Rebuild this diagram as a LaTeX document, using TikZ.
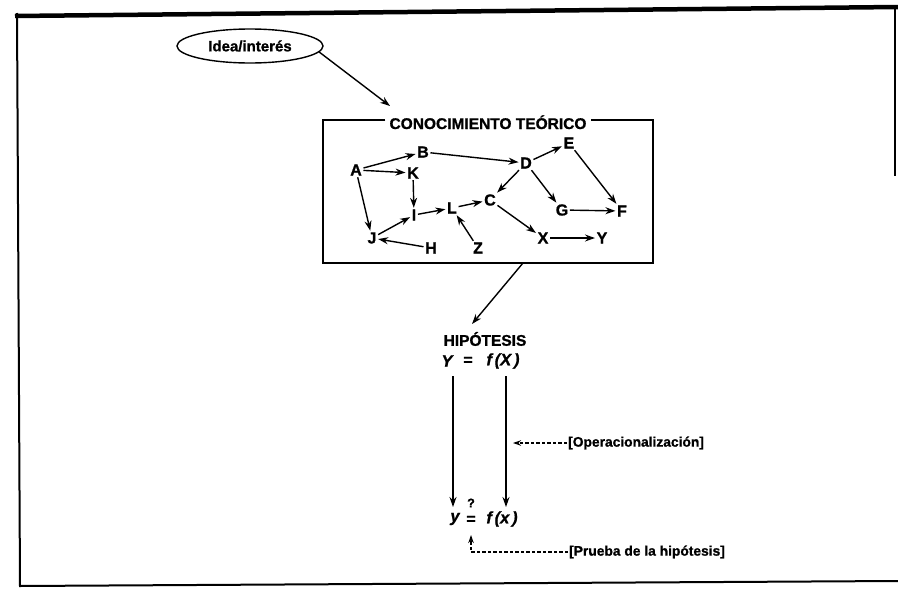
\documentclass[tikz,border=0pt]{standalone}
\usepackage{fontspec}
\setmainfont{Liberation Sans}[BoldFeatures={FakeBold=1}, BoldItalicFeatures={FakeBold=1}]
\usetikzlibrary{arrows.meta,shapes.geometric}
\begin{document}
\begin{tikzpicture}[x=1pt,y=-1pt,
  lbl/.style={font=\bfseries\fontsize{16}{18}\selectfont, inner sep=1.5pt},
  ttl/.style={font=\bfseries\fontsize{15.5}{18}\selectfont, inner sep=1pt},
  eqn/.style={font=\bfseries\itshape\fontsize{16.5}{18}\selectfont, inner sep=1pt},
  side/.style={font=\bfseries\fontsize{13.8}{16}\selectfont, inner sep=1pt},
  arr/.style={-{Stealth[length=10pt,width=7pt]}, line width=1.4pt},
  darr/.style={-{Stealth[length=8pt,width=5.5pt]}, line width=1.1pt, dash pattern=on 3.5pt off 2pt},
  frame/.style={line width=2pt}]
\useasboundingbox (0,0) rectangle (898,592);

% frame
\draw[line width=4.5pt] (15,16) -- (898,7);
\draw[frame] (17,13) -- (20,586) -- (898,581);
\draw[line width=1.5pt] (895,6) -- (895,176);

% idea
\node[draw, ellipse, line width=1.4pt, minimum width=146pt, minimum height=34pt,
      font=\bfseries\fontsize{15}{17}\selectfont, inner sep=0pt] (idea) at (250,46) {Idea/interés};
\coordinate (ideatip) at (390,106);
\draw[arr] (idea.-5) -- (ideatip);

% box
\node[ttl, anchor=base] (conoc) at (488,129) {CONOCIMIENTO TEÓRICO};
\coordinate (tl) at (323,120);
\coordinate (tr) at (653,120);
\coordinate (bl) at (323,263);
\coordinate (br) at (653,263);
\draw[line width=1.6pt] ([xshift=-3pt]conoc.west |- tl) -- (tl) -- (bl) -- (br) -- (tr) -- ([xshift=3pt]conoc.east |- tr);

% graph nodes
\node[lbl] (A) at (356,170) {A};
\node[lbl] (B) at (423,152) {B};
\node[lbl] (K) at (413,173) {K};
\node[lbl] (D) at (526,163) {D};
\node[lbl] (E) at (569,143) {E};
\node[lbl] (I) at (414,215) {I};
\node[lbl] (L) at (452,208) {L};
\node[lbl] (C) at (490,200) {C};
\node[lbl] (G) at (562,210) {G};
\node[lbl] (F) at (622,211) {F};
\node[lbl] (J) at (372,238) {J};
\node[lbl] (H) at (431,248) {H};
\node[lbl] (Z) at (478,248) {Z};
\node[lbl] (X) at (543,238) {X};
\node[lbl] (Yn) at (602,238) {Y};

\draw[arr] (A) -- (B);
\draw[arr] (A) -- (K);
\draw[arr] (A) -- (J);
\draw[arr] (K) -- (I);
\draw[arr] (J) -- (I);
\draw[arr] (H) -- (J);
\draw[arr] (I) -- (L);
\draw[arr] (L) -- (C);
\draw[arr] (Z) -- (L);
\draw[arr] (B) -- (D);
\draw[arr] (D) -- (E);
\draw[arr] (D) -- (C);
\draw[arr] (D) -- (G);
\draw[arr] (E) -- (F);
\draw[arr] (G) -- (F);
\draw[arr] (C) -- (X);
\draw[arr] (X) -- (Yn);

% hypothesis
\coordinate (boxout) at (523,263);
\node[ttl] (hip) at (485,339) {HIPÓTESIS};
\coordinate (hiptip) at (472,324);
\draw[arr] (boxout) -- (hiptip);

\node[eqn] (Ybig) at (447,361) {Y};
\node[eqn, font=\bfseries\fontsize{16}{18}\selectfont] (eqa) at (468,361) {=};
\node[eqn] (fX) at (503,361) {f\,(X\,)};

\node[eqn] (ysm) at (455,519) {y};
\node[eqn, font=\bfseries\fontsize{12.5}{14}\selectfont] (qm) at (471,503) {?};
\node[eqn, font=\bfseries\fontsize{16}{18}\selectfont] (eqb) at (471,520) {=};
\node[eqn] (fx) at (502,519) {f\,(x\,)};

\coordinate (lt) at (453,376);
\coordinate (lb) at (453,507);
\coordinate (rt) at (506,376);
\coordinate (rb) at (506,507);
\draw[arr] (lt) -- (lb);
\draw[arr] (rt) -- (rb);

% side labels
\node[side, anchor=west] (oper) at (567,443) {[Operacionalización]};
\draw[darr] (oper.west) -- (513,443);

\node[side, anchor=west] (prueba) at (568,552) {[Prueba de la hipótesis]};
\draw[darr] (prueba.west) -- (471,552) -- (471,535);
\end{tikzpicture}
\end{document}
